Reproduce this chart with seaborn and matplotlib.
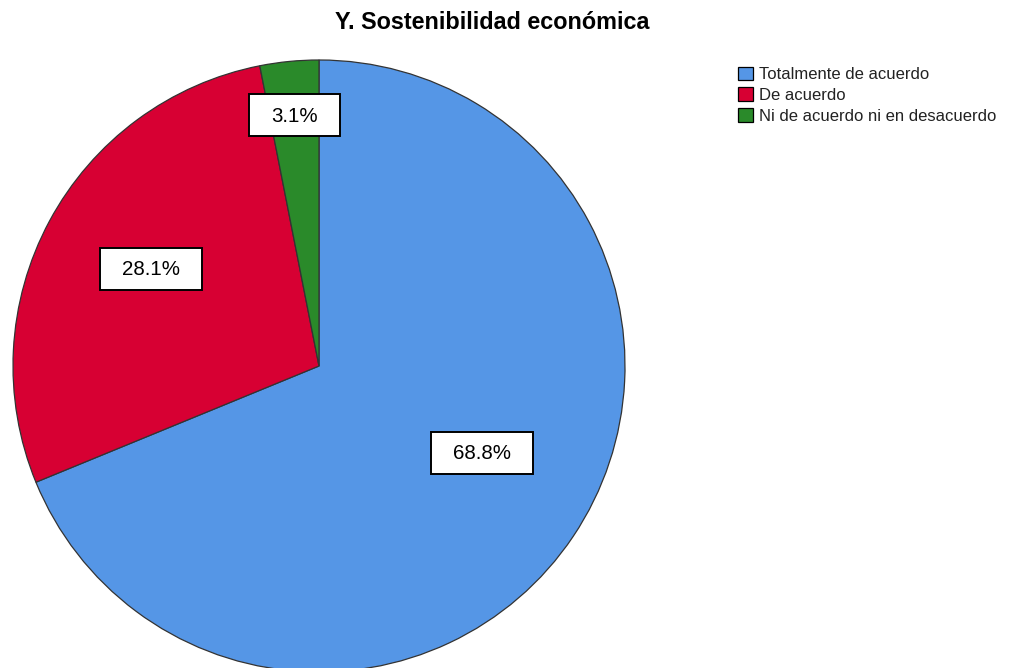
import matplotlib
matplotlib.use("Agg")
import matplotlib.pyplot as plt
import seaborn as sns
import numpy as np
from matplotlib.patches import Patch, Rectangle
from matplotlib.transforms import IdentityTransform

categories = ["Totalmente de acuerdo", "De acuerdo", "Ni de acuerdo ni en desacuerdo"]
percentages = [68.8, 28.1, 3.1]
label_texts = ["68.8%", "28.1%", "3.1%"]
title = "Y. Sostenibilidad económica"

sns.set_theme(style="white")
plt.rcParams['font.family'] = ['Liberation Sans', 'DejaVu Sans']
colors = sns.color_palette(["#5596E6", "#D70033", "#2A8A2A"])

fig = plt.figure(figsize=(10.14, 6.68), dpi=100)
ax = fig.add_axes([0, 0, 1, 1])

wedges, _ = ax.pie(percentages, colors=colors, startangle=90, counterclock=False,
                   radius=1.0, center=(0, 0),
                   wedgeprops=dict(edgecolor="#333333", linewidth=0.9))

ax.set_aspect("equal")
R = 306.0
ax.set_xlim(-319 / R, (1014 - 319) / R)
ax.set_ylim(-(668 - 366) / R, 366 / R)
ax.axis("off")

# label placement (radial distance, angle offset in degrees) per slice
label_r = [0.605, 0.633, 0.82]
label_off = [5.5, -1.6, 0]
texts = []
for w, txt, r, off in zip(wedges, label_texts, label_r, label_off):
    ang = np.deg2rad((w.theta1 + w.theta2) / 2 + off)
    t = ax.text(r * np.cos(ang), r * np.sin(ang), txt, ha="center", va="center",
                fontsize=14.8, color="black", zorder=6)
    texts.append(t)

fig.canvas.draw()
renderer = fig.canvas.get_renderer()
for t in texts:
    bb = t.get_window_extent(renderer)
    cx, cy = ax.transData.transform(t.get_position())
    w_px = bb.width + 44
    h_px = 42
    rect = Rectangle((cx - w_px / 2, cy - h_px / 2 + 1), w_px, h_px,
                     transform=IdentityTransform(), facecolor="white",
                     edgecolor="black", linewidth=1.4, zorder=5, clip_on=False)
    ax.add_artist(rect)

fig.text(492.5 / 1014, 1 - 29 / 668, title, ha="center", va="baseline",
         fontsize=16.8, fontweight="bold", color="black")

handles = [Patch(facecolor=c, edgecolor="black", linewidth=0.9) for c in colors]
leg = fig.legend(handles, categories, loc="upper left",
                 bbox_to_anchor=(736 / 1014, 1 - 65 / 668),
                 frameon=False, fontsize=12, handlelength=0.9, handleheight=0.9,
                 handletextpad=0.36, labelspacing=0.31, borderpad=0.1,
                 borderaxespad=0)
for t in leg.get_texts():
    t.set_color("#222222")

fig.savefig("out.png", dpi=100, facecolor="white")
